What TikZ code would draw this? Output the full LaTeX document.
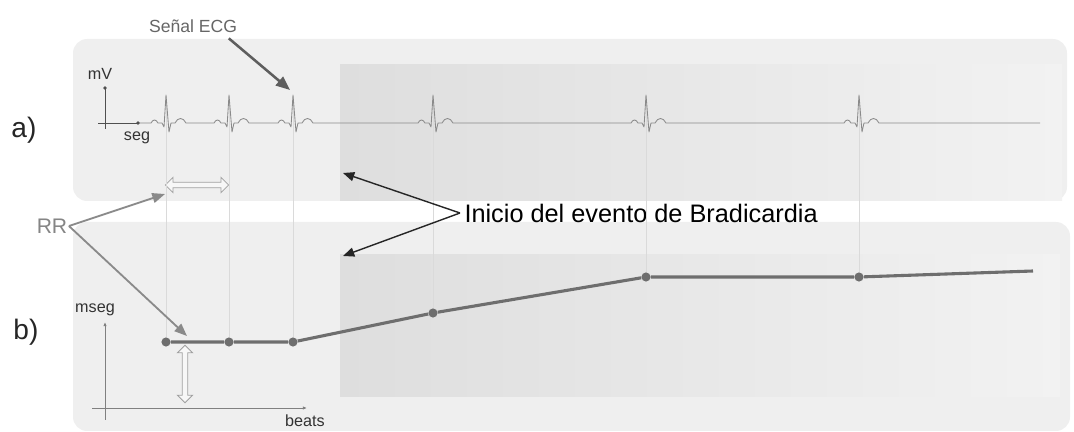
\documentclass[tikz,border=0pt]{standalone}
\usepackage{fontspec}
\setmainfont{Liberation Sans}
\usepackage{tikz}
\usetikzlibrary{arrows.meta,positioning,shapes.arrows}

\definecolor{panelgray}{HTML}{EFEFEF}
\definecolor{shadeleft}{HTML}{DEDEDE}
\definecolor{shaderight}{HTML}{F2F2F2}
\definecolor{ecggray}{HTML}{8A8A8A}
\definecolor{guidegray}{HTML}{DADADA}
\definecolor{tachogray}{HTML}{6E6E6E}
\definecolor{axisgray}{HTML}{505050}
\definecolor{calloutgray}{HTML}{5E5E5E}
\definecolor{rrgray}{HTML}{8A8A8A}
\definecolor{hollowgray}{HTML}{A0A0A0}

\begin{document}
\begin{tikzpicture}
	% Styles
	[
	x=0.025cm, y=-0.025cm,
	panel/.style={fill=panelgray, rounded corners=10pt},
	evshade/.style={left color=shadeleft, right color=shaderight},
	ecg/.style={draw=ecggray, line width=0.6pt, line join=round},
	guide/.style={draw=guidegray, line width=0.4pt},
	tacho/.style={draw=tachogray, line width=2.2pt},
	beatdot/.style={circle, fill=tachogray, inner sep=0pt, minimum size=6.5pt},
	axis/.style={draw=axisgray, line width=0.6pt},
	axislabel/.style={inner sep=1pt, text=black!80, font=\fontsize{11.5}{13}\selectfont},
	tag/.style={inner sep=1pt, text=black!85, font=\fontsize{20}{24}\selectfont},
	callout/.style={draw=calloutgray, line width=1.8pt, -{Triangle[length=10pt,width=8pt]}},
	rrarrow/.style={draw=rrgray, line width=1.3pt, -{Triangle[length=9pt,width=7pt]}},
	onsetarrow/.style={draw=black!85, line width=1pt, -{Triangle[length=8pt,width=6.5pt]}},
	hollow/.style={double arrow, draw=hollowgray, fill=black!3, line width=0.6pt, inner sep=1.7pt, double arrow head extend=3.4pt},
	]
	\useasboundingbox (0,0) rectangle (1074,432);

	% Panels
	\fill[panel] (73,39) rectangle (1067,201);
	\fill[panel] (73,222) rectangle (1070,431);
	\shade[evshade] (340,65) rectangle (1062,201);
	\shade[evshade] (340,255) rectangle (1060,397);

	% Nodes
	\foreach \x [count=\i] in {166,229,293,433,646,859}
		\coordinate (r\i) at (\x,97);
	\node at (166,342)	(t1)	[beatdot] {};
	\node at (229,342)	(t2)	[beatdot] {};
	\node at (293,342)	(t3)	[beatdot] {};
	\node at (433,313)	(t4)	[beatdot] {};
	\node at (646,277)	(t5)	[beatdot] {};
	\node at (859,277)	(t6)	[beatdot] {};
	\coordinate (t7) at (1033,271);

	\coordinate (avlo) at (105,129);
	\coordinate (avhi) at (105,88);
	\coordinate (ahlo) at (98,123);
	\coordinate (ahhi) at (138,123);
	\coordinate (bvlo) at (105,420);
	\coordinate (bvhi) at (105,322);
	\coordinate (bhlo) at (92,408);
	\coordinate (bhhi) at (307,408);

	\node at (24,130)	(taga)	[tag] {a)};
	\node at (26,332)	(tagb)	[tag] {b)};
	\node at (100,74)	(mv)	[axislabel] {mV};
	\node at (137,138)	(seg)	[axislabel] {seg};
	\node at (95,310)	(mseg)	[axislabel] {mseg};
	\node at (305,421)	(beats)	[axislabel] {beats};

	\node at (193,26)	(ecglab)	[inner sep=1pt, text=black!60, font=\fontsize{12.5}{15}\selectfont] {Señal ECG};
	\coordinate (rpk3) at (290,90);
	\node at (52,226)	(rr)	[inner sep=1pt, text=black!48, font=\fontsize{15}{17}\selectfont] {RR};
	\coordinate (rrtop) at (165,194);
	\coordinate (rrbot) at (187,336);
	\node at (460,213)	(onset)	[anchor=west, inner sep=3pt, font=\fontsize{18}{21}\selectfont] {Inicio del evento de Bradicardia};
	\coordinate (onsa) at (343,173);
	\coordinate (onsb) at (343,256);

	\node at (197,185)	(rrh)	[hollow, minimum height=45pt] {};
	\node at (185,374)	(rrv)	[hollow, minimum height=41pt, shape border rotate=90] {};

	% Connections
	\foreach \i in {1,...,6}
		\draw[guide] (r\i) -- (t\i);
	\draw[tacho] (t1) -- (t2) -- (t3) -- (t4) -- (t5) -- (t6) -- (t7);

	\draw[ecg] (ahhi)
		\foreach \r in {166,229,293,433,646,859}{
			-- (\r-15,123) .. controls (\r-13,119) and (\r-10,119) .. (\r-8,123)
			-- (\r-4,123) -- (\r-2,127) -- (\r,95) -- (\r+3,132) -- (\r+5,123)
			-- (\r+9,123) .. controls (\r+12,117) and (\r+17,117) .. (\r+20,123)
		} -- (1040,123);

	\draw[axis] (avlo) -- (avhi);
	\draw[axis] (ahlo) -- (ahhi);
	\fill[axisgray] (avhi) circle (1.3pt) (ahhi) circle (1.3pt);
	\draw[axis, gray, -{Latex[length=3pt,width=2.5pt]}] (bvlo) -- (bvhi);
	\draw[axis, gray, -{Latex[length=3pt,width=2.5pt]}] (bhlo) -- (bhhi);

	\draw[callout] ([shift={(-7pt,-3pt)}]ecglab.south east) -- (rpk3);
	\draw[rrarrow] (rr.east) -- (rrtop);
	\draw[rrarrow] (rr.east) -- (rrbot);
	\draw[onsetarrow] (onset.west) -- (onsa);
	\draw[onsetarrow] (onset.west) -- (onsb);

\end{tikzpicture}
\end{document}
